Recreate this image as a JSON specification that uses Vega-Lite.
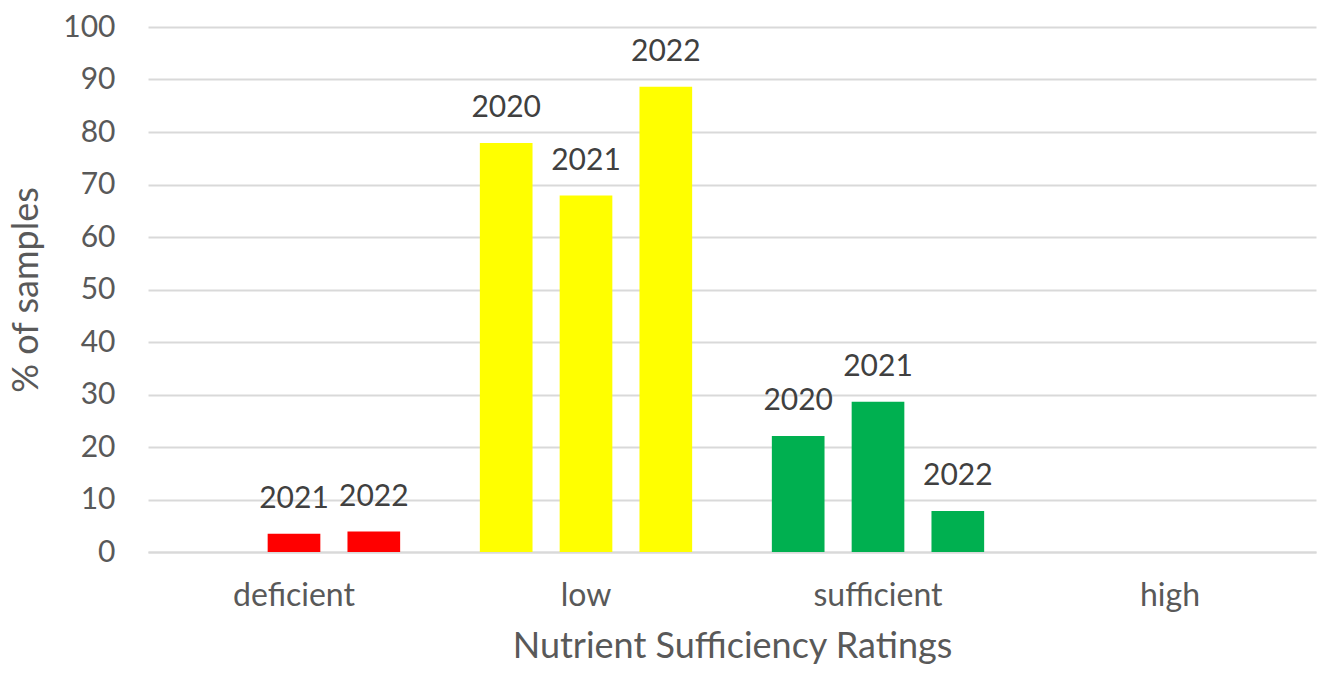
{
  "$schema": "https://vega.github.io/schema/vega-lite/v6.json",
  "width": 1168,
  "height": 525,
  "autosize": "none",
  "padding": {"left": 148, "top": 27, "right": 7, "bottom": 125},
  "background": "white",
  "config": {
    "font": "Lato",
    "view": {"stroke": null},
    "axis": {
      "labelFont": "Lato",
      "titleFont": "Lato",
      "labelColor": "#595959",
      "titleColor": "#595959",
      "titleFontWeight": "normal",
      "labelFontSize": 30,
      "titleFontSize": 36,
      "labelOverlap": false,
      "domainColor": "#D9D9D9",
      "domainWidth": 2,
      "gridColor": "#D9D9D9",
      "gridWidth": 2,
      "ticks": false
    }
  },
  "data": {
    "values": [
      {"rating": "deficient", "year": "2021", "pct": 3.5},
      {"rating": "deficient", "year": "2022", "pct": 3.9},
      {"rating": "low", "year": "2020", "pct": 77.9},
      {"rating": "low", "year": "2021", "pct": 67.9},
      {"rating": "low", "year": "2022", "pct": 88.6},
      {"rating": "sufficient", "year": "2020", "pct": 22.1},
      {"rating": "sufficient", "year": "2021", "pct": 28.6},
      {"rating": "sufficient", "year": "2022", "pct": 7.8}
    ]
  },
  "encoding": {
    "x": {
      "field": "rating",
      "type": "nominal",
      "sort": null,
      "scale": {"domain": ["deficient", "low", "sufficient", "high"], "paddingInner": 0.18, "paddingOuter": 0.09},
      "axis": {"title": "Nutrient Sufficiency Ratings", "labelAngle": 0, "labelFontSize": 32, "labelPadding": 28, "titlePadding": 18, "domain": true, "grid": false}
    },
    "xOffset": {
      "field": "year",
      "type": "nominal",
      "scale": {"domain": ["2020", "2021", "2022"], "paddingInner": 0.34, "paddingOuter": 0.17}
    },
    "y": {
      "field": "pct",
      "type": "quantitative",
      "scale": {"domain": [0, 100], "nice": false},
      "axis": {"title": "% of samples", "values": [0, 10, 20, 30, 40, 50, 60, 70, 80, 90, 100], "labelPadding": 33, "titlePadding": 17, "domain": false, "grid": true}
    }
  },
  "layer": [
    {
      "mark": {"type": "bar"},
      "encoding": {
        "color": {
          "field": "rating",
          "type": "nominal",
          "scale": {"domain": ["deficient", "low", "sufficient", "high"], "range": ["#FF0000", "#FFFF00", "#00B050", "#4472C4"]},
          "legend": null
        }
      }
    },
    {
      "mark": {"type": "text", "baseline": "alphabetic", "dy": -26, "fontSize": 30, "color": "#404040", "font": "Lato"},
      "encoding": {
        "text": {"field": "year", "type": "nominal"}
      }
    }
  ]
}
